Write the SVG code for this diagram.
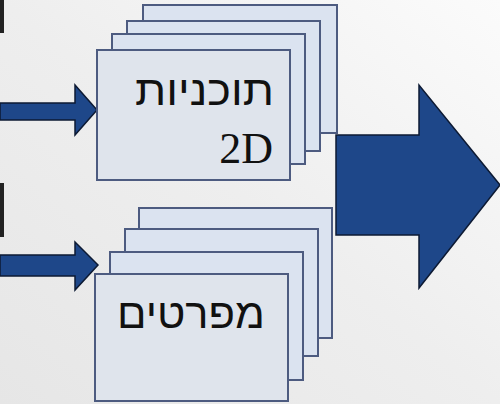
<svg xmlns="http://www.w3.org/2000/svg" width="500" height="404" viewBox="0 0 500 404">
<defs>
<linearGradient id="bg" x1="0" y1="1" x2="1" y2="0">
<stop offset="0" stop-color="#e6e6e6"/>
<stop offset="0.5" stop-color="#eeeeee"/>
<stop offset="1" stop-color="#fbfbfb"/>
</linearGradient>
</defs>
<style>
.card{fill:#dfe4ec;stroke:#4d5b80;stroke-width:2}
.back{fill:#dbe3f0;stroke:#4d5b80;stroke-width:2}
.arrow{fill:#1e4789;stroke:#0d1a33;stroke-width:1.5;stroke-linejoin:miter}
.heb{font-family:"Liberation Sans","DejaVu Sans",sans-serif;font-size:41px;fill:#111}
.lat{font-family:"Liberation Serif","DejaVu Serif",serif;font-size:44px;fill:#111}
</style>
<rect width="500" height="404" fill="url(#bg)"/>
<rect x="0" y="0" width="4" height="33" fill="#222"/>
<rect x="0" y="183" width="4" height="54" fill="#222"/>
<g id="connectors">
<polygon class="arrow" points="0,103 75,103 75,85 97,110 75,135 75,120 0,120"/>
<polygon class="arrow" points="0,255 75,255 75,242 98,265 75,290 75,276 0,276"/>
<polygon class="arrow" points="336,135 419,135 419,85 500,185 419,288 419,235 336,235"/>
</g>
<g id="plans">
<rect class="back" x="143" y="5" width="194" height="128"/>
<rect class="back" x="127" y="21" width="193" height="130"/>
<rect class="back" x="112" y="34" width="193" height="130"/>
<rect class="card" x="97" y="50" width="193" height="130"/>
<text class="heb" x="274" y="105" text-anchor="end" textLength="139" lengthAdjust="spacingAndGlyphs">תוכניות</text>
<text class="lat" x="273" y="163" text-anchor="end">2D</text>
</g>
<g id="specs">
<rect class="back" x="139" y="208" width="193" height="130"/>
<rect class="back" x="125" y="229" width="193" height="127"/>
<rect class="back" x="110" y="252" width="193" height="128"/>
<rect class="card" x="95" y="274" width="193" height="127"/>
<text class="heb" x="265" y="328" text-anchor="end" textLength="148" lengthAdjust="spacingAndGlyphs">מפרטים</text>
</g>
</svg>
